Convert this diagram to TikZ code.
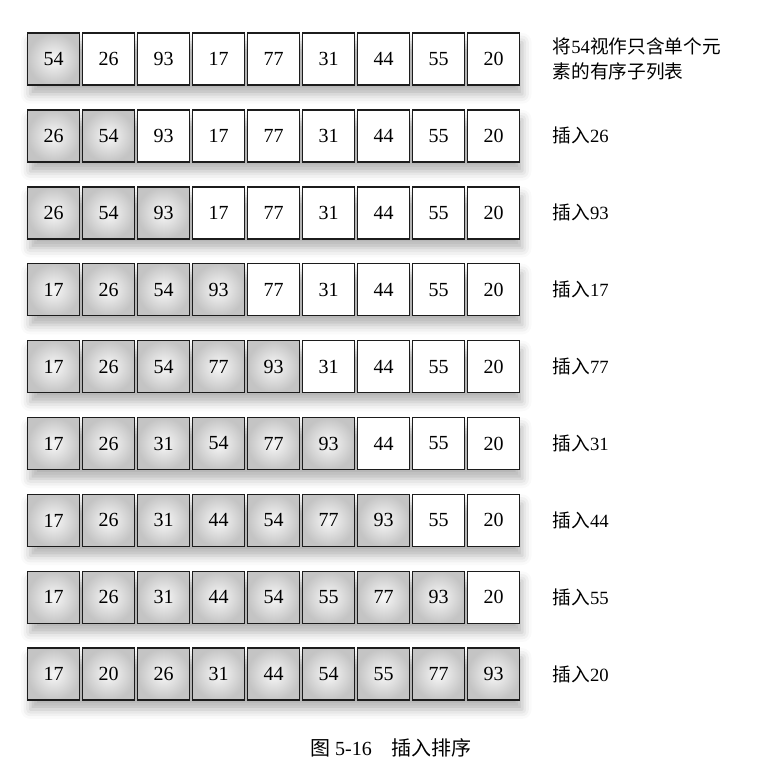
\documentclass[tikz,border=0pt]{standalone}
\usepackage{fontspec}
\setmainfont{Liberation Serif}
\newfontfamily\cjk{Noto Sans CJK SC}
\usetikzlibrary{backgrounds,shadows.blur}
\newcommand{\zh}[1]{{\cjk #1}}
\definecolor{rim}{HTML}{1C1C1C}
\definecolor{sortlo}{HTML}{F8F8F8}
\definecolor{sorthi}{HTML}{C4C4C4}

\tikzset{
  cell/.style={draw=rim,line width=1.1pt,fill=white,minimum width=39pt,
    minimum height=39pt,inner sep=0pt,outer sep=0pt,font=\fontsize{15}{18}\selectfont},
  sorted/.style={inner color=sortlo,outer color=sorthi},
  steplabel/.style={anchor=west,align=left,font=\fontsize{14}{19}\selectfont}
}

\begin{document}
\begin{tikzpicture}[x=0.75pt,y=-0.75pt]
  \useasboundingbox (0,0) rectangle (782,774);
  \foreach \vals/\k/\lab [count=\r] in {
      {54,26,93,17,77,31,44,55,20}/1/{\zh{将}54\zh{视作只含单个元}\\\zh{素的有序子列表}},
      {26,54,93,17,77,31,44,55,20}/2/{\zh{插入}26},
      {26,54,93,17,77,31,44,55,20}/3/{\zh{插入}93},
      {17,26,54,93,77,31,44,55,20}/4/{\zh{插入}17},
      {17,26,54,77,93,31,44,55,20}/5/{\zh{插入}77},
      {17,26,31,54,77,93,44,55,20}/6/{\zh{插入}31},
      {17,26,31,44,54,77,93,55,20}/7/{\zh{插入}44},
      {17,26,31,44,54,55,77,93,20}/8/{\zh{插入}55},
      {17,20,26,31,44,54,55,77,93}/9/{\zh{插入}20}}{
    % one row of the list
    \foreach \v [count=\c] in \vals {
      \ifnum\c>\k
        \node[cell] (r\r-\c) at ({53.5+55*(\c-1)},{59+76.9*(\r-1)}) {\v};
      \else
        \node[cell,sorted] (r\r-\c) at ({53.5+55*(\c-1)},{59+76.9*(\r-1)}) {\v};
      \fi
    }
    \begin{scope}[on background layer]
      \path[blur shadow={shadow xshift=2pt,shadow yshift=-7pt,shadow blur radius=7pt,shadow opacity=30}]
        (r\r-1.north west) rectangle (r\r-9.south east);
    \end{scope}
    \node[steplabel] (lab\r) at (548,{59+76.9*(\r-1)}) {\lab};
  }
  \node[font=\fontsize{15}{18}\selectfont] (caption) at (391,748) {\zh{图} 5-16\quad\zh{插入排序}};
\end{tikzpicture}
\end{document}
